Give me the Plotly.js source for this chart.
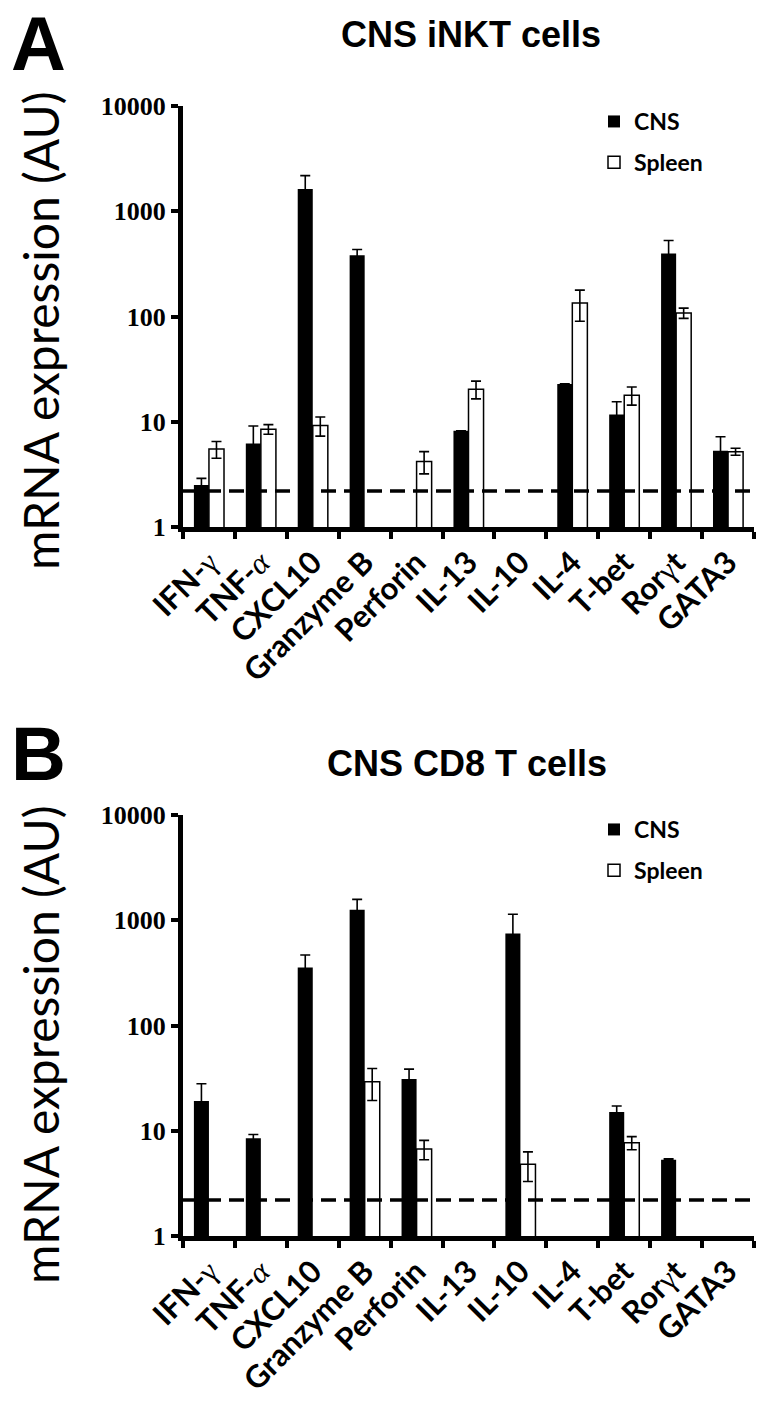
<!DOCTYPE html>
<html>
<head>
<meta charset="utf-8">
<script src="https://cdn.plot.ly/plotly-3.0.1.min.js"></script>
<style>html,body{margin:0;padding:0;background:#fff;}#chart{width:765px;height:1408px;}</style>
</head>
<body>
<div id="chart"></div>
<script>
// ---- data ----
const categories = ['IFN-γ','TNF-α','CXCL10','Granzyme B','Perforin','IL-13','IL-10','IL-4','T-bet','Rorγt','GATA3'];
const tickLabels = ['IFN-<span style="font-family:Liberation Serif;font-weight:normal">γ</span>',
  'TNF-<span style="font-family:Liberation Serif;font-weight:normal;font-style:italic">α</span>',
  'CXCL10','Granzyme B','Perforin','IL-13','IL-10','IL-4','T-bet',
  'Ror<span style="font-family:Liberation Serif;font-weight:normal">γ</span>t','GATA3'];

const inktCNS      = [2.5, 6.2, 1630, 382, null, 8.2, null, 22.9, 11.7, 396, 5.3];
const inktCNSErr   = [0.4, 2.9, 550, 51, null, 0, null, 0, 3.8, 131, 1.9];
const inktSpleen   = [5.5, 8.5, 9.2, null, 4.2, 20.4, null, 134, 17.9, 108, 5.2];
const inktSpleenErr= [1.0, 0.9, 1.9, null, 1.0, 3.9, null, 44, 3.5, 12, 0.4];

const cd8CNS       = [19.2, 8.5, 355, 1260, 31, null, 748, null, 15.1, 5.3, null];
const cd8CNSErr    = [8.8, 0.7, 112, 320, 7.5, null, 392, null, 2.1, 0.1, null];
const cd8Spleen    = [null, null, null, 29.2, 6.7, null, 4.8, null, 7.7, null, null];
const cd8SpleenErr = [null, null, null, 9.8, 1.4, null, 1.5, null, 1.1, null, null];

const detectionLimit = 2.2;
const yTickVals = [1, 10, 100, 1000, 10000];
const yTickText = ['1', '10', '100', '1000', '10000'];
const panelTitles = ['CNS iNKT cells', 'CNS CD8 T cells'];
const panelLetters = ['A', 'B'];
const seriesNames = ['CNS', 'Spleen'];

// ---- styling helpers ----
const H = 1408, W = 765, L = 183, PW = 571;
const px = (x) => (x - L) / PW;
const py = (y) => 1 - y / H;
const errStyle = (arr) => ({type:'data', array:arr, visible:true, color:'#000', thickness:1.6, width:5});

function barTrace(vals, errs, name, filled, xa, ya, leg, grp) {
  return {
    type:'bar', x:categories, y:vals, name:name, xaxis:xa, yaxis:ya, legend:leg, legendgroup:grp,
    marker:{color: filled ? '#000' : '#fff', line:{color:'#000', width: filled ? 0 : 1.5}},
    error_y: errStyle(errs), hoverinfo:'skip'
  };
}

const data = [
  barTrace(inktCNS, inktCNSErr, seriesNames[0], true, 'x', 'y', 'legend', 'a1'),
  barTrace(inktSpleen, inktSpleenErr, seriesNames[1], false, 'x', 'y', 'legend', 'a2'),
  barTrace(cd8CNS, cd8CNSErr, seriesNames[0], true, 'x2', 'y2', 'legend2', 'b1'),
  barTrace(cd8Spleen, cd8SpleenErr, seriesNames[1], false, 'x2', 'y2', 'legend2', 'b2')
];

const dom = (top, bottom) => [1 - bottom / H, 1 - top / H];

const xAxisBase = {
  type:'category', tickson:'boundaries', ticks:'outside', ticklen:7, tickwidth:4, tickcolor:'#000',
  showline:true, linewidth:5, linecolor:'#000', showgrid:false, zeroline:false,
  tickangle:-45, tickvals:categories, ticktext:tickLabels,
  tickfont:{family:'Lato, Open Sans, sans-serif', size:31, color:'#000', weight:'bold'}
};
const yAxisBase = {
  type:'log', range:[0, 4], tickvals:yTickVals, ticktext:yTickText,
  ticks:'outside', ticklen:7, tickwidth:4, tickcolor:'#000',
  showline:true, linewidth:5, linecolor:'#000', showgrid:false, zeroline:false,
  tickfont:{family:'Liberation Serif, Times New Roman, serif', size:26, color:'#000', weight:'bold'}
};

const legendFont = {family:'Lato, Open Sans, sans-serif', size:23, color:'#000', weight:'bold'};
const letterFont = {family:'Liberation Sans, Arial, sans-serif', size:76, weight:'bold', color:'#000'};
const titleFont = {family:'Liberation Sans Narrow, Liberation Sans, Arial, sans-serif', size:36, weight:'bold', color:'#000'};
const yTitleFont = {family:'Lato, Open Sans, sans-serif', size:48, color:'#000'};

const layout = {
  width:W, height:H, paper_bgcolor:'#fff', plot_bgcolor:'#fff',
  margin:{l:L, r:W - L - PW, t:0, b:0},
  barmode:'group', bargap:0.42, bargroupgap:0,
  showlegend:true,
  xaxis: Object.assign({}, xAxisBase, {anchor:'y', domain:[0,1]}),
  yaxis: Object.assign({}, yAxisBase, {anchor:'x', domain:dom(106, 527)}),
  xaxis2: Object.assign({}, xAxisBase, {anchor:'y2', domain:[0,1]}),
  yaxis2: Object.assign({}, yAxisBase, {anchor:'x2', domain:dom(815, 1236)}),
  legend:{x:px(594), y:py(100), xanchor:'left', yanchor:'top', bgcolor:'rgba(0,0,0,0)',
    font:legendFont, tracegroupgap:8, itemwidth:30},
  legend2:{x:px(594), y:py(808), xanchor:'left', yanchor:'top', bgcolor:'rgba(0,0,0,0)',
    font:legendFont, tracegroupgap:8, itemwidth:30},
  shapes:[
    {type:'line', xref:'x domain', yref:'y', x0:0, x1:1, y0:detectionLimit, y1:detectionLimit,
     line:{color:'#000', width:3.5, dash:'15px,8px'}},
    {type:'line', xref:'x2 domain', yref:'y2', x0:0, x1:1, y0:detectionLimit, y1:detectionLimit,
     line:{color:'#000', width:3.5, dash:'15px,8px'}}
  ],
  annotations:[
    {text:panelLetters[0], xref:'paper', yref:'paper', x:px(38), y:py(0), xanchor:'center', yanchor:'top', borderpad:0, showarrow:false,
     font:letterFont},
    {text:panelLetters[1], xref:'paper', yref:'paper', x:px(38), y:py(710), xanchor:'center', yanchor:'top', borderpad:0, showarrow:false,
     font:letterFont},
    {text:panelTitles[0], xref:'paper', yref:'paper', x:px(471), y:py(34), xanchor:'center', yanchor:'middle', showarrow:false,
     font:titleFont},
    {text:panelTitles[1], xref:'paper', yref:'paper', x:px(467), y:py(763), xanchor:'center', yanchor:'middle', showarrow:false,
     font:titleFont},
    {text:'mRNA expression (AU)', xref:'paper', yref:'paper', x:px(40), y:py(331), xanchor:'center', yanchor:'middle', textangle:-90, showarrow:false,
     font:yTitleFont},
    {text:'mRNA expression (AU)', xref:'paper', yref:'paper', x:px(40), y:py(1045), xanchor:'center', yanchor:'middle', textangle:-90, showarrow:false,
     font:yTitleFont}
  ]
};

Plotly.newPlot('chart', data, layout, {staticPlot:true, displayModeBar:false});
</script>
</body>
</html>
